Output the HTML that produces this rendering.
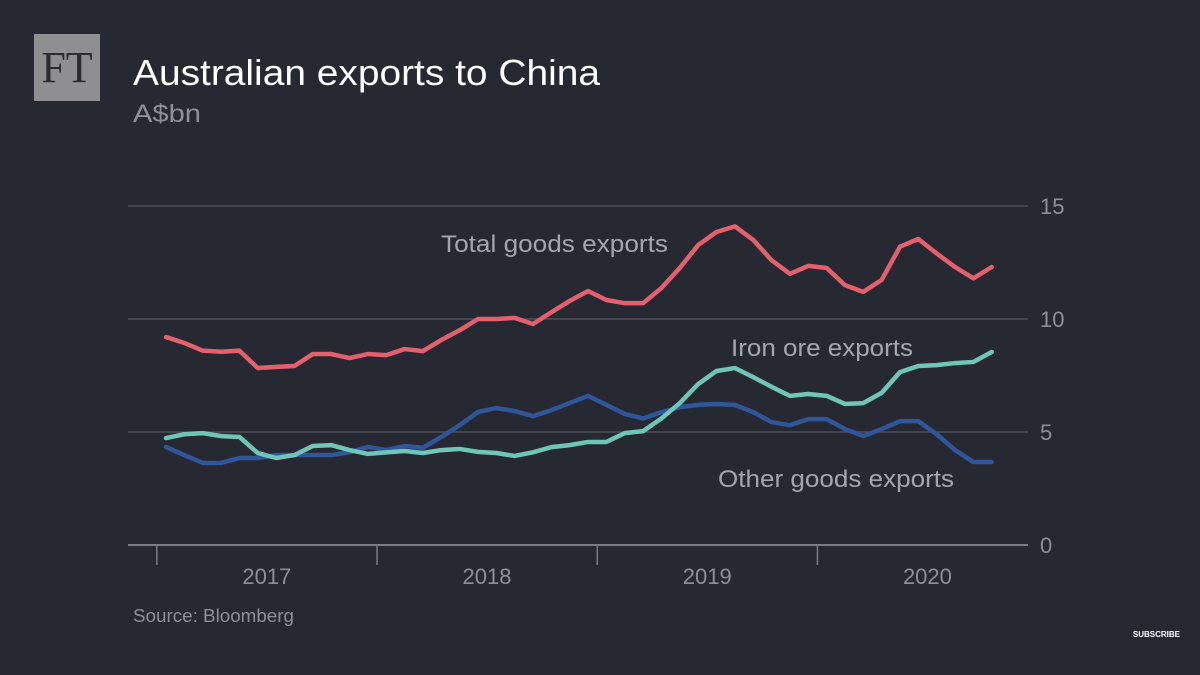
<!DOCTYPE html>
<html><head><meta charset="utf-8"><style>
html,body{margin:0;padding:0;background:#262931;}
body{width:1200px;height:675px;overflow:hidden;position:relative;font-family:"Liberation Sans",sans-serif;}
</style></head><body>
<svg id="chart" width="1200" height="675" xmlns="http://www.w3.org/2000/svg" style="position:absolute;left:0;top:0">
<rect width="1200" height="675" fill="#262931"/>
<g>
<rect x="34" y="34" width="66" height="67" fill="#8f8f91"/>
<text x="67" y="82" text-anchor="middle" font-family="Liberation Serif, serif" font-size="44" fill="#2b2b2e">FT</text>
</g>
<text x="133" y="85" font-size="36" fill="#ffffff" textLength="467" lengthAdjust="spacingAndGlyphs">Australian exports to China</text>
<text x="133" y="122" font-size="25" fill="#8e9097" textLength="68" lengthAdjust="spacingAndGlyphs">A$bn</text>
<g id="grid"></g>
<g id="lines"></g>
<text x="441" y="252" font-size="24" fill="#a4a6ac" textLength="227" lengthAdjust="spacingAndGlyphs">Total goods exports</text>
<text x="731" y="356" font-size="24" fill="#a4a6ac" textLength="182" lengthAdjust="spacingAndGlyphs">Iron ore exports</text>
<text x="718" y="487" font-size="24" fill="#a4a6ac" textLength="236" lengthAdjust="spacingAndGlyphs">Other goods exports</text>
<text x="133" y="622" font-size="18" fill="#8e9097" textLength="161" lengthAdjust="spacingAndGlyphs">Source: Bloomberg</text>
<text x="1180" y="637" text-anchor="end" font-size="8" font-weight="bold" fill="#ffffff">SUBSCRIBE</text>
</svg>
<script>
const yTicks=[0,5,10,15];
const years=["2017","2018","2019","2020"];
const total=[9.2,8.94,8.6,8.55,8.6,7.83,7.88,7.92,8.45,8.45,8.27,8.45,8.4,8.67,8.58,9.07,9.5,10.0,10.0,10.05,9.78,10.3,10.8,11.24,10.84,10.7,10.7,11.37,12.26,13.27,13.85,14.1,13.5,12.6,12.0,12.35,12.26,11.5,11.2,11.73,13.2,13.54,12.9,12.3,11.8,12.3];
const iron=[4.73,4.9,4.95,4.82,4.78,4.07,3.85,3.98,4.38,4.42,4.2,4.03,4.1,4.16,4.07,4.2,4.25,4.12,4.07,3.94,4.1,4.33,4.42,4.56,4.56,4.95,5.04,5.6,6.28,7.12,7.7,7.83,7.43,7.0,6.6,6.68,6.6,6.24,6.28,6.73,7.65,7.92,7.96,8.05,8.1,8.54];
const other=[4.34,3.98,3.63,3.63,3.85,3.85,3.98,3.98,3.98,3.98,4.1,4.34,4.2,4.38,4.3,4.78,5.3,5.88,6.06,5.93,5.7,5.97,6.28,6.6,6.2,5.8,5.6,5.88,6.1,6.2,6.24,6.2,5.88,5.44,5.3,5.57,5.57,5.13,4.82,5.13,5.48,5.48,4.9,4.2,3.67,3.67];
const NS="http://www.w3.org/2000/svg";
function xS(i){return 166+i*18.35;}
function yS(v){return 545-v*22.6;}
function mk(t,a,p){const e=document.createElementNS(NS,t);for(const k in a)e.setAttribute(k,a[k]);p.appendChild(e);return e;}
const grid=document.getElementById('grid');
yTicks.forEach(v=>{
  const l=mk('line',{x1:128,x2:1028,y1:yS(v),y2:yS(v),stroke:v===0?'#7b7d84':'#4c4f57','stroke-width':v===0?2:1.5},grid);
  
  
  const t=mk('text',{x:1040,y:yS(v)+8,'font-size':22,fill:'#8e9097'},grid);
  t.textContent=v;
  
  
});
years.forEach((y,k)=>{
  const x0=xS(-0.5+12*k);
  const tk=mk('line',{x1:x0,x2:x0,y1:545,y2:565,stroke:'#7b7d84','stroke-width':1.5},grid);
  
  
  const t=mk('text',{x:x0+110,y:584,'text-anchor':'middle','font-size':22,fill:'#8e9097'},grid);
  t.textContent=y;
  
  
});
const lines=document.getElementById('lines');
[[other,'#2f5699','line-other-goods'],[iron,'#6fc6b8','line-iron-ore'],[total,'#e4606d','line-total-goods']].forEach(([d,c,n])=>{
  const p=mk('polyline',{points:d.map((v,i)=>xS(i)+','+yS(v)).join(' '),fill:'none',stroke:c,'stroke-width':4.5,'stroke-linejoin':'round','stroke-linecap':'round'},lines);
  
  
});
</script>
</body></html>
